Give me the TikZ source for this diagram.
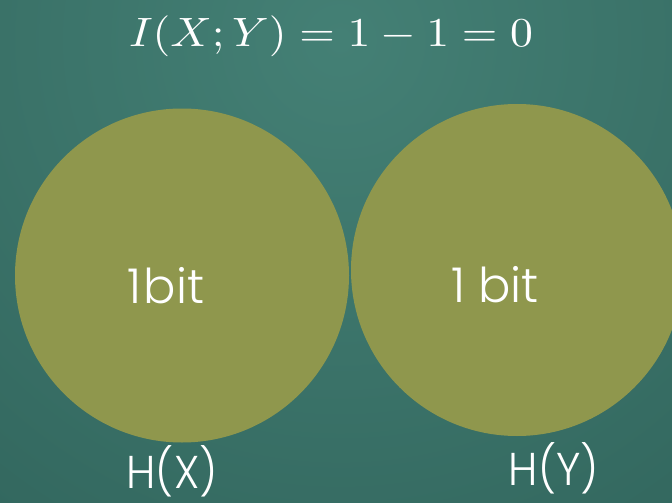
\documentclass[tikz,border=0pt]{standalone}
\usepackage{graphicx}
\usepackage{fontspec}
\newfontfamily\labelfont{Poppins}[UprightFont={* Light}]
\definecolor{bglight}{RGB}{68,128,117}
\definecolor{bgdark}{RGB}{44,94,86}
\definecolor{olive}{RGB}{143,151,77}
\tikzset{
  setcircle/.style={fill=olive, draw=none},
  bitlabel/.style={anchor=base, text=white, font=\labelfont\fontsize{48}{54}\selectfont, inner sep=0pt},
  setlabel/.style={anchor=base, text=white, font=\labelfont\fontsize{46}{54}\selectfont, inner sep=0pt},
}
\begin{document}
\begin{tikzpicture}[x=1pt,y=-1pt]
\useasboundingbox (0,0) rectangle (672,503);
\begin{scope}
  \clip (0,0) rectangle (672,503);
  \shade[inner color=bglight, outer color=bgdark] (340,40) circle (820);
  \fill[setcircle] (182,275.5) circle (167);
  \fill[setcircle] (517,270) circle (166);
\end{scope}
\node[text=white, anchor=base, inner sep=0pt] (title) at (331,47) {\scalebox{4.57}[4.1]{$I(X;Y)=1-1=0$}};
\node[bitlabel] (bx) at (166,303) {1\kern2pt bit};
\node[bitlabel] (by) at (495,302) {1 bit};
\node[setlabel, xscale=0.94] (hx) at (172,488) {H(X)};
\node[setlabel, xscale=0.94] (hy) at (554,485) {H(Y)};
\end{tikzpicture}
\end{document}
